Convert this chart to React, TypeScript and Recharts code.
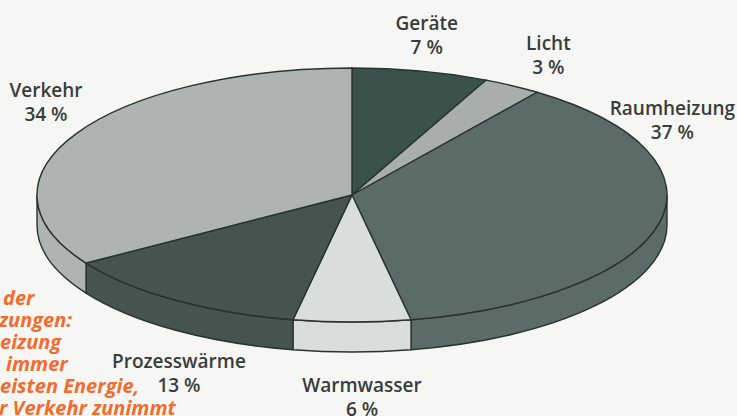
import React from "react"
import { PieChart, Pie, Cell } from "recharts"

// Endenergieverbrauch nach Anwendungsbereichen (%)
const CATEGORIES = ["Geräte", "Licht", "Raumheizung", "Warmwasser", "Prozesswärme", "Verkehr"]
const SHARES = [7, 3, 37, 6, 13, 34]

// angeschnittener Randtext links unten
const NOTE_LINES = ["der", "zungen:", "eizung", "immer", "eisten Energie,", "r Verkehr zunimmt"]

const COLORS = ["#3b514c", "#a8aeac", "#5b6b67", "#d9dddb", "#45544f", "#aeb4b2"]
// Versatz des Beschriftungsblocks gegenüber dem Randpunkt des Segments
const LABEL_OFFSETS = [
  [6, -41],
  [36, -36],
  [13, -108],
  [10, 70],
  [4, 68],
  [-30, -37],
]

const W = 737
const H = 416
const TILT = 127 / 315
const DEPTH = 30
const RAD = Math.PI / 180
const EDGE = "#28322f"
const TEXT = "#383d3b"

const data = CATEGORIES.map((name, i) => ({ name, value: SHARES[i] }))

function Slice3D(props: any) {
  const { cx, cy, outerRadius, startAngle, endAngle, fill } = props
  const rx = outerRadius
  const ry = outerRadius * TILT
  const p = (a: number, dy = 0) =>
    `${cx + rx * Math.cos(a * RAD)},${cy - ry * Math.sin(a * RAD) + dy}`
  const hi = Math.max(startAngle, endAngle)
  const lo = Math.min(startAngle, endAngle)
  const large = hi - lo > 180 ? 1 : 0
  const top = `M${cx},${cy} L${p(hi)} A${rx},${ry} 0 ${large} 1 ${p(lo)} Z`

  // sichtbare Mantelfläche: nur die vordere Hälfte der Ellipse
  const sides: string[] = []
  for (const [f0, f1] of [[-540, -360], [-180, 0], [180, 360]]) {
    const a = Math.min(hi, f1)
    const b = Math.max(lo, f0)
    if (a > b) {
      sides.push(
        `M${p(a)} A${rx},${ry} 0 0 1 ${p(b)} L${p(b, DEPTH)} A${rx},${ry} 0 0 0 ${p(a, DEPTH)} Z`
      )
    }
  }

  return (
    <g>
      {sides.map((d, i) => (
        <path key={i} d={d} fill={fill} stroke={EDGE} strokeWidth={1.4} strokeLinejoin="round" />
      ))}
      <path d={top} fill={fill} stroke={EDGE} strokeWidth={1.4} strokeLinejoin="round" />
    </g>
  )
}

function renderLabel(props: any) {
  const { cx, cy, midAngle, outerRadius, index, name, value } = props
  const rx = outerRadius
  const ry = outerRadius * TILT
  const [dx, dy] = LABEL_OFFSETS[index]
  const x = cx + rx * Math.cos(midAngle * RAD) + dx
  const y = cy - ry * Math.sin(midAngle * RAD) + dy
  return (
    <text
      x={x}
      y={y}
      textAnchor="middle"
      fill={TEXT}
      fontFamily="'Open Sans', sans-serif"
      fontWeight={600}
      fontSize={19}
    >
      <tspan x={x} y={y}>{name}</tspan>
      <tspan x={x} y={y + 24}>{`${value} %`}</tspan>
    </text>
  )
}

export default function App() {
  return (
    <div
      style={{
        position: "absolute",
        left: 0,
        top: 0,
        width: W,
        height: H,
        background: "#f6f6f4",
        overflow: "hidden",
      }}
    >
      <PieChart width={W} height={H} margin={{ top: 0, right: 0, bottom: 0, left: 0 }}>
        <Pie
          data={data}
          dataKey="value"
          nameKey="name"
          cx={352}
          cy={195}
          outerRadius={315}
          startAngle={90}
          endAngle={-270}
          isAnimationActive={false}
          label={renderLabel}
          labelLine={false}
          shape={Slice3D}
          activeShape={Slice3D}
          inactiveShape={Slice3D}
        >
          {data.map((d, i) => (
            <Cell key={d.name} fill={COLORS[i]} />
          ))}
        </Pie>
      </PieChart>

      <svg
        width={W}
        height={H}
        style={{ position: "absolute", left: 0, top: 0, pointerEvents: "none" }}
      >
        {NOTE_LINES.map((line, i) => (
          <text
            key={i}
            x={[3, -1, 0, 6, 0, -1][i]}
            y={305 + i * 22}
            fill="#f26c30"
            fontFamily="'Open Sans', sans-serif"
            fontStyle="italic"
            fontWeight={700}
            fontSize={20}
          >
            {line}
          </text>
        ))}
      </svg>
    </div>
  )
}
